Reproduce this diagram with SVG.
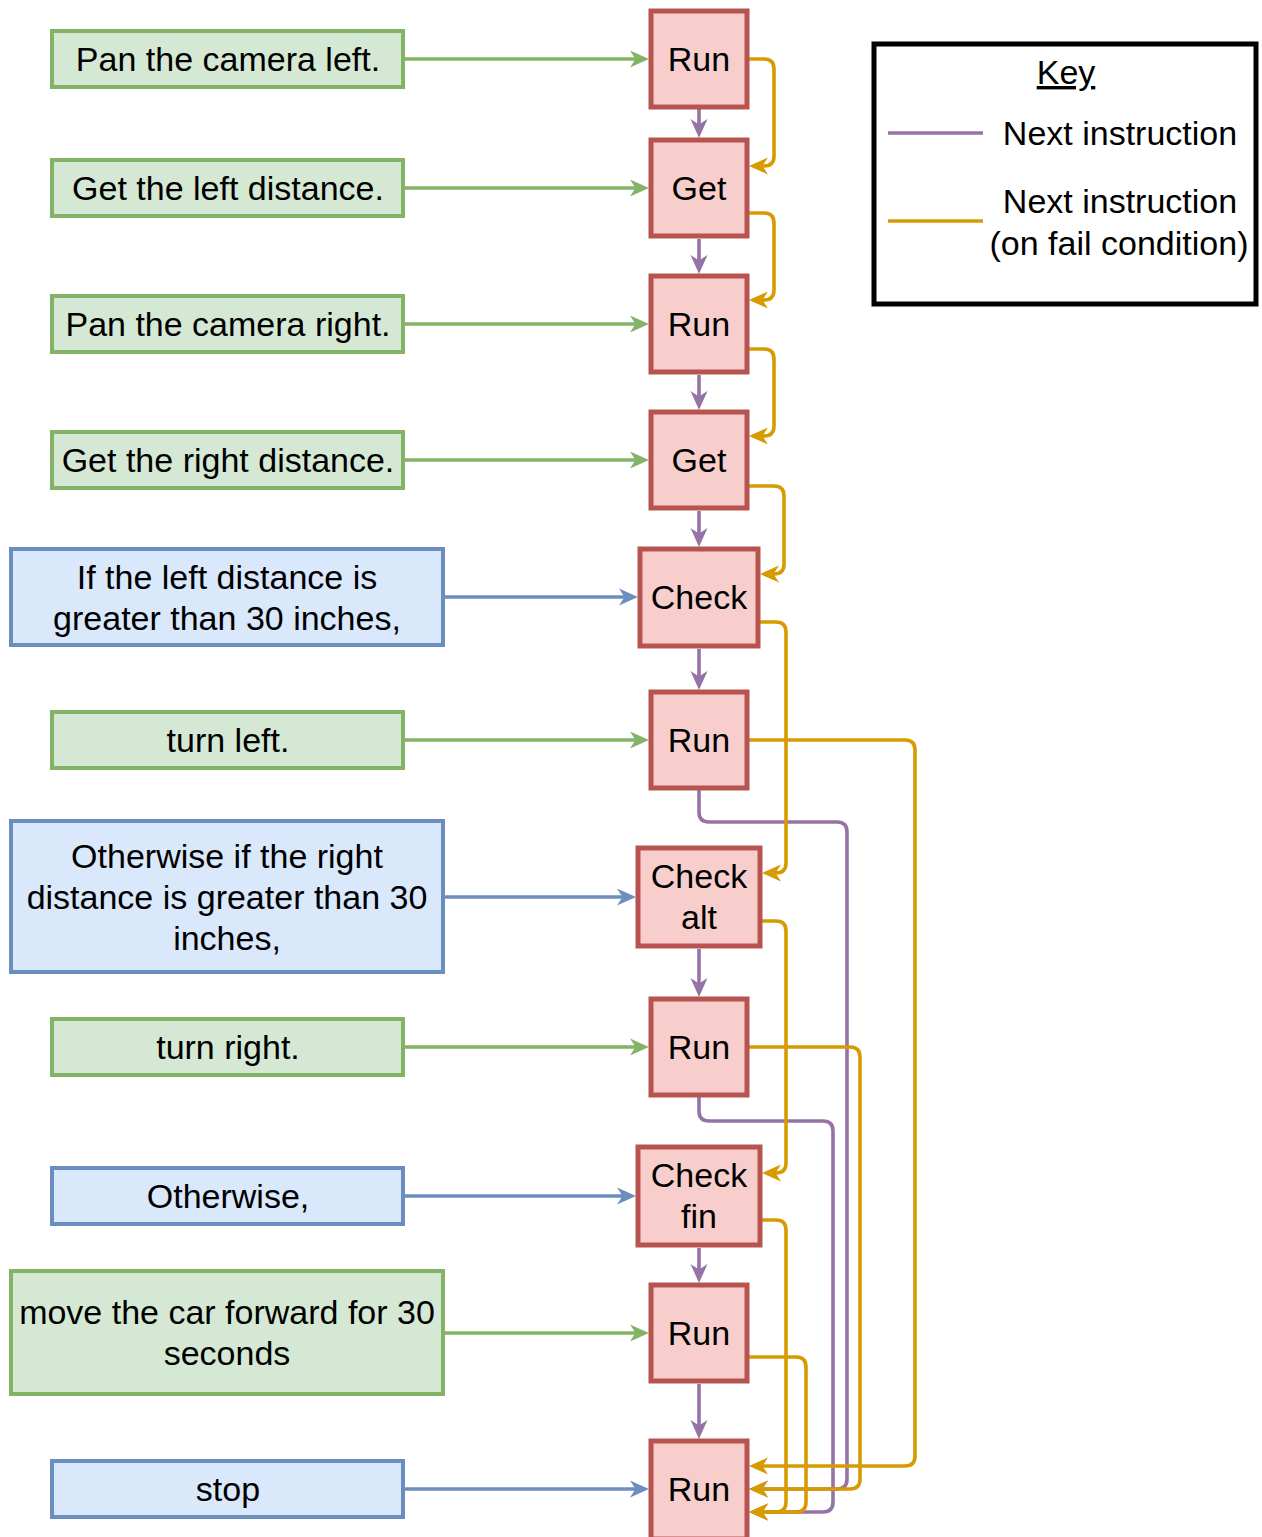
<svg xmlns="http://www.w3.org/2000/svg" width="1262" height="1537" viewBox="0 0 1262 1537">
  <style>
    text { font-family: "Liberation Sans", Arial, sans-serif; font-size: 34px; fill: #000; text-anchor: middle; }
    .red rect { fill: #f8cecc; stroke: #b85450; stroke-width: 5; }
    .green rect { fill: #d5e8d4; stroke: #82b366; stroke-width: 4; }
    .blue rect { fill: #dae8fc; stroke: #6c8ebf; stroke-width: 4; }
    .edge { fill: none; stroke-width: 3.6; stroke-linejoin: round; }
    .g { stroke: #82b366; marker-end: url(#arrowG); }
    .b { stroke: #6c8ebf; marker-end: url(#arrowB); }
    .p { stroke: #9673a6; marker-end: url(#arrowP); }
    .o { stroke: #d79b00; marker-end: url(#arrowO); }
  </style>
  <defs>
    <marker id="arrowG" viewBox="0 0 19 18" refX="14" refY="9" markerWidth="19" markerHeight="18" markerUnits="userSpaceOnUse" orient="auto">
      <path d="M0,0.5 L19,9 L0,17.5 L5.5,9 z" fill="#82b366"/>
    </marker>
    <marker id="arrowB" viewBox="0 0 19 18" refX="14" refY="9" markerWidth="19" markerHeight="18" markerUnits="userSpaceOnUse" orient="auto">
      <path d="M0,0.5 L19,9 L0,17.5 L5.5,9 z" fill="#6c8ebf"/>
    </marker>
    <marker id="arrowP" viewBox="0 0 19 18" refX="14" refY="9" markerWidth="19" markerHeight="18" markerUnits="userSpaceOnUse" orient="auto">
      <path d="M0,0.5 L19,9 L0,17.5 L5.5,9 z" fill="#9673a6"/>
    </marker>
    <marker id="arrowO" viewBox="0 0 19 18" refX="14" refY="9" markerWidth="19" markerHeight="18" markerUnits="userSpaceOnUse" orient="auto">
      <path d="M0,0.5 L19,9 L0,17.5 L5.5,9 z" fill="#d79b00"/>
    </marker>
  </defs>

  <rect x="0" y="0" width="1262" height="1537" fill="#ffffff"/>

  <!-- connectors -->
  <g id="connectors">
    <!-- description to instruction -->
    <path class="edge g" d="M405,59 H644"/>
    <path class="edge g" d="M405,188 H644"/>
    <path class="edge g" d="M405,324 H644"/>
    <path class="edge g" d="M405,460 H644"/>
    <path class="edge b" d="M445,597 H633"/>
    <path class="edge g" d="M405,740 H644"/>
    <path class="edge b" d="M445,897 H631"/>
    <path class="edge g" d="M405,1047 H644"/>
    <path class="edge b" d="M405,1196 H631"/>
    <path class="edge g" d="M445,1333 H644"/>
    <path class="edge b" d="M405,1489 H644"/>

    <!-- next instruction -->
    <path class="edge p" d="M699,109 V133"/>
    <path class="edge p" d="M699,239 V269"/>
    <path class="edge p" d="M699,375 V405"/>
    <path class="edge p" d="M699,511 V542"/>
    <path class="edge p" d="M699,649 V685"/>
    <path class="edge p" d="M699,949 V992"/>
    <path class="edge p" d="M699,1248 V1278"/>
    <path class="edge p" d="M699,1384 V1434"/>
    <path class="edge p" d="M699,790 V812 Q699,822 709,822 H837 Q847,822 847,832 V1479 Q847,1489 837,1489 H754"/>
    <path class="edge p" d="M699,1096 V1111 Q699,1121 709,1121 H823 Q833,1121 833,1131 V1502 Q833,1512 823,1512 H754"/>

    <!-- next instruction on fail condition -->
    <path class="edge o" d="M749,59 H764 Q774,59 774,69 V156 Q774,166 764,166 H754"/>
    <path class="edge o" d="M749,213 H764 Q774,213 774,223 V290 Q774,300 764,300 H754"/>
    <path class="edge o" d="M749,349 H764 Q774,349 774,359 V426 Q774,436 764,436 H754"/>
    <path class="edge o" d="M749,486 H774 Q784,486 784,496 V564 Q784,574 774,574 H765"/>
    <path class="edge o" d="M760,622 H776 Q786,622 786,632 V863 Q786,873 776,873 H767"/>
    <path class="edge o" d="M762,921 H776 Q786,921 786,931 V1163 Q786,1173 776,1173 H767"/>
    <path class="edge o" d="M762,1220 H776 Q786,1220 786,1230 V1502 Q786,1512 776,1512 H754"/>
    <path class="edge o" d="M749,740 H905 Q915,740 915,750 V1456 Q915,1466 905,1466 H754"/>
    <path class="edge o" d="M749,1047 H850 Q860,1047 860,1057 V1479 Q860,1489 850,1489 H754"/>
    <path class="edge o" d="M749,1357 H796 Q806,1357 806,1367 V1502 Q806,1512 796,1512 H754"/>
  </g>

  <!-- descriptions -->
  <g id="desc-pan-left" class="green"><rect x="52" y="31" width="351" height="56"/><text x="228" y="71">Pan the camera left.</text></g>
  <g id="desc-get-left" class="green"><rect x="52" y="160" width="351" height="56"/><text x="228" y="200">Get the left distance.</text></g>
  <g id="desc-pan-right" class="green"><rect x="52" y="296" width="351" height="56"/><text x="228" y="336">Pan the camera right.</text></g>
  <g id="desc-get-right" class="green"><rect x="52" y="432" width="351" height="56"/><text x="228" y="472">Get the right distance.</text></g>
  <g id="desc-if-left" class="blue"><rect x="11" y="549" width="432" height="96"/>
    <text x="227" y="589">If the left distance is</text>
    <text x="227" y="630">greater than 30 inches,</text></g>
  <g id="desc-turn-left" class="green"><rect x="52" y="712" width="351" height="56"/><text x="228" y="752">turn left.</text></g>
  <g id="desc-if-right" class="blue"><rect x="11" y="821" width="432" height="151"/>
    <text x="227" y="868">Otherwise if the right</text>
    <text x="227" y="909">distance is greater than 30</text>
    <text x="227" y="950">inches,</text></g>
  <g id="desc-turn-right" class="green"><rect x="52" y="1019" width="351" height="56"/><text x="228" y="1059">turn right.</text></g>
  <g id="desc-otherwise" class="blue"><rect x="52" y="1168" width="351" height="56"/><text x="228" y="1208">Otherwise,</text></g>
  <g id="desc-forward" class="green"><rect x="11" y="1271" width="432" height="123"/>
    <text x="227" y="1324">move the car forward for 30</text>
    <text x="227" y="1365">seconds</text></g>
  <g id="desc-stop" class="blue"><rect x="52" y="1461" width="351" height="56"/><text x="228" y="1501">stop</text></g>

  <!-- instructions -->
  <g id="ins-run-1" class="red"><rect x="651" y="11" width="96" height="96"/><text x="699" y="71">Run</text></g>
  <g id="ins-get-2" class="red"><rect x="651" y="140" width="96" height="96"/><text x="699" y="200">Get</text></g>
  <g id="ins-run-3" class="red"><rect x="651" y="276" width="96" height="96"/><text x="699" y="336">Run</text></g>
  <g id="ins-get-4" class="red"><rect x="651" y="412" width="96" height="96"/><text x="699" y="472">Get</text></g>
  <g id="ins-check" class="red"><rect x="640" y="549" width="118" height="97"/><text x="699" y="609">Check</text></g>
  <g id="ins-run-6" class="red"><rect x="651" y="692" width="96" height="96"/><text x="699" y="752">Run</text></g>
  <g id="ins-check-alt" class="red"><rect x="638" y="848" width="122" height="98"/>
    <text x="699" y="888">Check</text><text x="699" y="929">alt</text></g>
  <g id="ins-run-8" class="red"><rect x="651" y="999" width="96" height="96"/><text x="699" y="1059">Run</text></g>
  <g id="ins-check-fin" class="red"><rect x="638" y="1147" width="122" height="98"/>
    <text x="699" y="1187">Check</text><text x="699" y="1228">fin</text></g>
  <g id="ins-run-10" class="red"><rect x="651" y="1285" width="96" height="96"/><text x="699" y="1345">Run</text></g>
  <g id="ins-run-11" class="red"><rect x="651" y="1441" width="96" height="98"/><text x="699" y="1501">Run</text></g>

  <!-- key -->
  <g id="key">
    <rect x="874" y="44" width="382" height="260" fill="#ffffff" stroke="#000000" stroke-width="5"/>
    <text x="1066" y="84" text-decoration="underline">Key</text>
    <line x1="888" y1="133" x2="983" y2="133" stroke="#9673a6" stroke-width="3.6"/>
    <text x="1120" y="145">Next instruction</text>
    <line x1="888" y1="221" x2="983" y2="221" stroke="#d79b00" stroke-width="3.6"/>
    <text x="1120" y="213">Next instruction</text>
    <text x="1119" y="255">(on fail condition)</text>
  </g>
</svg>
